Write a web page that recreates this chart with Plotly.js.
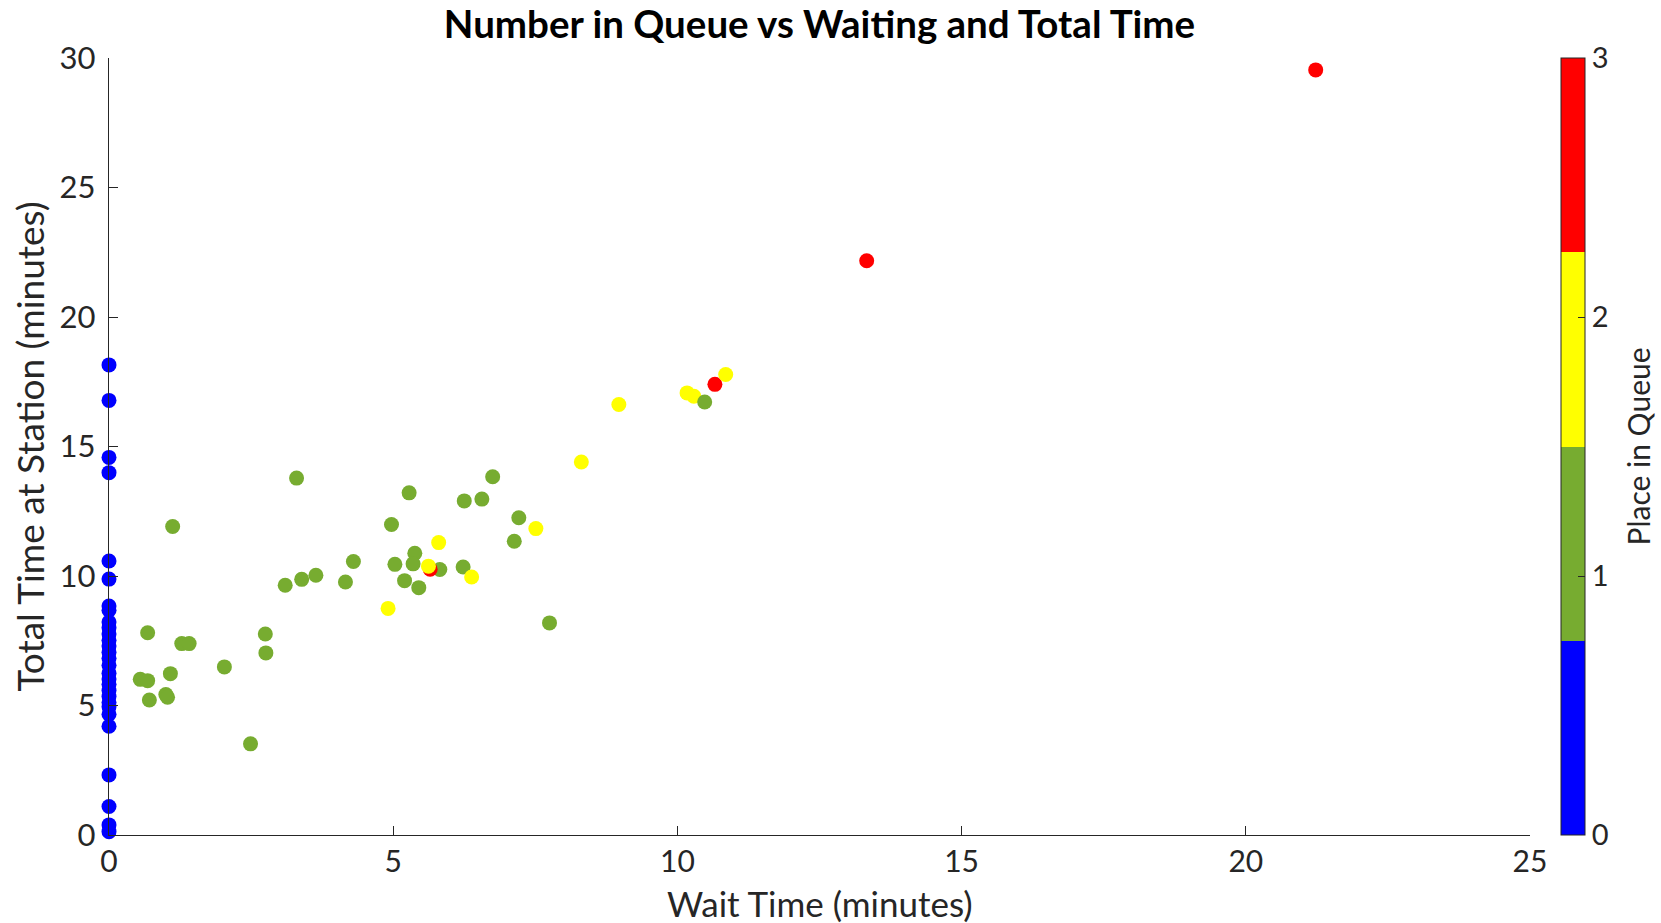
<!DOCTYPE html>
<html>
<head>
<meta charset="utf-8">
<script src="https://cdn.plot.ly/plotly-3.0.1.min.js"></script>
<style>
  html, body { margin: 0; padding: 0; background: #ffffff; }
  #chart { width: 1661px; height: 923px; }
</style>
</head>
<body>
<div id="chart"></div>
<script>
// Wait time, total time at the station, and place in queue for each customer.
// Points are listed in drawing order (later points sit on top).
const waitTime = [
  0, 0, 0, 0, 0, 0, 0, 0, 0, 0, 0, 0, 0, 0, 0, 0, 0, 0, 0, 0, 0, 0, 0, 0, 0, 0, 0, 0, 0,
  3.30, 1.12, 5.28, 6.25, 6.56, 6.75, 7.21, 7.13, 4.97, 4.30, 5.38, 5.03, 5.35, 5.82, 6.23,
  5.20, 5.45, 3.10, 3.39, 3.64, 4.16, 0.68, 1.28, 1.41, 2.75, 2.76, 2.03, 1.08, 0.55, 0.68,
  0.71, 1.00, 1.03, 2.49, 7.75,
  5.65,
  4.91, 5.62, 5.80, 6.38, 7.51, 8.31, 8.97, 10.17, 10.29,
  10.48,
  10.66,
  10.85,
  13.33,
  21.23
];
const totalTime = [
  18.15, 16.78, 14.58, 13.99, 10.58, 9.88, 8.84, 8.68, 8.22, 8.00, 7.76, 7.52, 7.30, 7.06,
  6.82, 6.55, 6.25, 6.02, 5.82, 5.58, 5.35, 5.12, 4.95, 4.66, 4.20, 2.32, 1.10, 0.39, 0.13,
  13.78, 11.91, 13.21, 12.90, 12.97, 13.83, 12.25, 11.34, 11.99, 10.56, 10.88, 10.45, 10.47,
  10.25, 10.35, 9.82, 9.55, 9.64, 9.87, 10.03, 9.77, 7.81, 7.39, 7.39, 7.76, 7.03, 6.49,
  6.23, 6.01, 5.96, 5.21, 5.42, 5.32, 3.52, 8.19,
  10.26,
  8.75, 10.38, 11.29, 9.96, 11.83, 14.40, 16.62, 17.07, 16.94,
  16.72,
  17.40,
  17.78,
  22.17,
  29.54
];
const placeInQueue = [
  0, 0, 0, 0, 0, 0, 0, 0, 0, 0, 0, 0, 0, 0, 0, 0, 0, 0, 0, 0, 0, 0, 0, 0, 0, 0, 0, 0, 0,
  1, 1, 1, 1, 1, 1, 1, 1, 1, 1, 1, 1, 1, 1, 1, 1, 1, 1, 1, 1, 1, 1, 1, 1, 1, 1, 1, 1, 1, 1,
  1, 1, 1, 1, 1,
  3,
  2, 2, 2, 2, 2, 2, 2, 2, 2,
  1,
  3,
  2,
  3,
  3
];

const xTicks = [0, 5, 10, 15, 20, 25];
const yTicks = [0, 5, 10, 15, 20, 25, 30];
const queueTicks = [0, 1, 2, 3];

// Four-step colour map: blue, green, yellow, red
const queueColors = ['#0000FF', '#77AC30', '#FFFF00', '#FF0000'];
const stepScale = [];
queueColors.forEach((c, i) => {
  stepScale.push([i / queueColors.length, c]);
  stepScale.push([(i + 1) / queueColors.length, c]);
});

const axisColor = '#262626';
const fontFamily = 'Lato, "Open Sans", sans-serif';

// Plot area in pixels
const plotLeft = 109, plotRight = 1530, plotTop = 58, plotBottom = 835;
const plotW = plotRight - plotLeft, plotH = plotBottom - plotTop;

const trace = {
  type: 'scatter',
  mode: 'markers',
  x: waitTime,
  y: totalTime,
  cliponaxis: false,
  hoverinfo: 'x+y',
  marker: {
    size: 15,
    color: placeInQueue,
    cmin: 0,
    cmax: 3,
    colorscale: stepScale,
    line: { width: 0 },
    showscale: true,
    colorbar: {
      x: (1561 - plotLeft) / plotW,
      xanchor: 'left',
      xpad: 0,
      y: 0,
      yanchor: 'bottom',
      len: 1,
      lenmode: 'fraction',
      ypad: 0,
      thickness: 24,
      thicknessmode: 'pixels',
      outlinewidth: 1,
      outlinecolor: axisColor,
      tickmode: 'array',
      tickvals: queueTicks,
      ticktext: queueTicks.map(String),
      ticks: 'inside',
      ticklen: 7,
      tickcolor: axisColor,
      ticklabelstandoff: 6,
      tickfont: { family: fontFamily, size: 29, color: axisColor }
    }
  }
};

const layout = {
  width: 1661,
  height: 923,
  paper_bgcolor: '#ffffff',
  plot_bgcolor: '#ffffff',
  showlegend: false,
  margin: { l: plotLeft, r: 1661 - plotRight, t: plotTop, b: 923 - plotBottom, pad: 0 },
  title: {
    text: '<b>Number in Queue vs Waiting and Total Time</b>',
    font: { family: fontFamily, size: 38.5, color: '#000000' },
    xref: 'paper',
    x: 0.5,
    xanchor: 'center',
    yref: 'container',
    y: 1 - 25 / 923,
    yanchor: 'middle'
  },
  xaxis: {
    range: [0, 25],
    tickmode: 'array',
    tickvals: xTicks,
    ticktext: xTicks.map(String),
    ticks: 'inside',
    ticklen: 9,
    tickcolor: axisColor,
    showline: true,
    linecolor: axisColor,
    linewidth: 1.3,
    showgrid: false,
    zeroline: false,
    ticklabelstandoff: 0,
    tickfont: { family: fontFamily, size: 30, color: axisColor }
  },
  yaxis: {
    range: [0, 30],
    tickmode: 'array',
    tickvals: yTicks,
    ticktext: yTicks.map(String),
    ticks: 'inside',
    ticklen: 9,
    tickcolor: axisColor,
    showline: true,
    linecolor: axisColor,
    linewidth: 1.3,
    showgrid: false,
    zeroline: false,
    ticklabelstandoff: 6,
    tickfont: { family: fontFamily, size: 31, color: axisColor },
    title: {
      text: 'Total Time at Station (minutes)',
      font: { family: fontFamily, size: 37, color: axisColor },
      standoff: 3
    }
  },
  annotations: [
    // x-axis label, below the tick labels
    {
      text: 'Wait Time (minutes)',
      xref: 'paper',
      yref: 'paper',
      x: 0.5,
      y: (plotBottom - 903) / plotH,
      xanchor: 'center',
      yanchor: 'middle',
      showarrow: false,
      font: { family: fontFamily, size: 35, color: axisColor }
    },
    // Colour bar label, beside the bar's tick labels
    {
      text: 'Place in Queue',
      xref: 'paper',
      yref: 'paper',
      x: (1637 - plotLeft) / plotW,
      y: 0.5,
      xanchor: 'center',
      yanchor: 'middle',
      textangle: -90,
      showarrow: false,
      font: { family: fontFamily, size: 30, color: axisColor }
    }
  ]
};

Plotly.newPlot('chart', [trace], layout, { displayModeBar: false, staticPlot: true });
</script>
</body>
</html>
